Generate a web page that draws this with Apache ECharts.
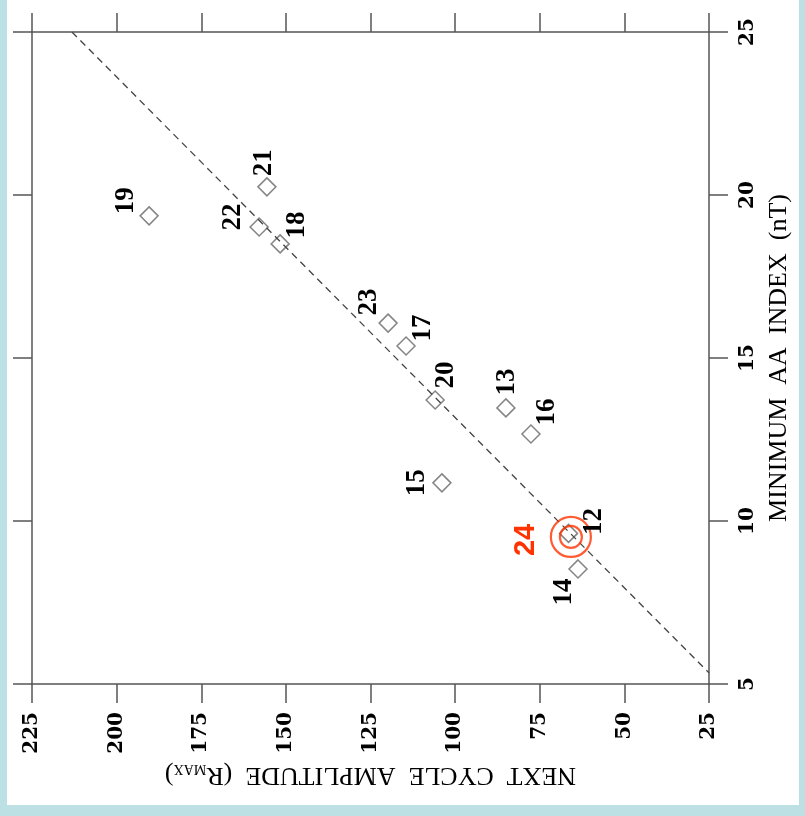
<!DOCTYPE html>
<html>
<head>
<meta charset="utf-8">
<script src="https://cdn.jsdelivr.net/npm/echarts@6/dist/echarts.min.js"></script>
<style>
  html, body { margin:0; padding:0; background:#bce0e4; }
  #paper { position:absolute; left:7px; top:0; width:792px; height:805px; background:#fff; }
  #chart { position:absolute; left:0; top:0; width:805px; height:816px; }
</style>
</head>
<body>
<div id="paper"></div>
<div id="chart"></div>
<script>
// ---- data ----
const cycles    = ['12','13','14','15','16','17','18','19','20','21','22','23'];
const amplitude = [66.5, 85.0, 63.7, 103.9, 77.6, 114.5, 151.7, 190.4, 105.9, 155.6, 157.9, 119.8];
const minAA     = [9.62, 13.47, 8.53, 11.17, 12.67, 15.37, 18.50, 19.36, 13.71, 20.25, 19.02, 16.07];
const predCycle = '24';
const predAmp   = 65.8;
const predAA    = 9.51;
const fitAmp    = [213.2, 25];
const fitAA     = [25, 5.34];
const ampTicks  = [25, 50, 75, 100, 125, 150, 175, 200, 225];
const aaTicks   = [5, 10, 15, 20, 25];

// ---- styling / layout ----
const labelOffsets = {
  '12':[26,-12], '13':[1,-26], '14':[-14,23], '15':[-25,0], '16':[16,-22], '17':[17,-18],
  '18':[17,-19], '19':[-23,-15], '20':[11,-25], '21':[-3,-24], '22':[-26,-10], '23':[-19,-21]
};
const predOffset = [-45, 3];
const lineCol = '#555';
const red = '#ff3300';
const serif = '"Liberation Serif", "Times New Roman", serif';
const wideSerif = '"DejaVu Serif", serif';

const chart = echarts.init(document.getElementById('chart'), null, {renderer:'canvas'});
const axisCommon = {
  type:'value',
  splitLine:{show:false},
  axisLine:{show:true, onZero:false, lineStyle:{color:lineCol, width:1.5}},
  axisTick:{show:true, inside:false, length:19, lineStyle:{color:lineCol, width:1.5}}
};
const tickFont = {color:'#000', fontFamily:wideSerif, fontWeight:'bold', fontSize:20};

chart.setOption({
  animation:false,
  backgroundColor:'transparent',
  grid:{left:32, top:32, width:677, height:652, containLabel:false},
  xAxis:[
    Object.assign({}, axisCommon, {
      position:'bottom', inverse:true, min:ampTicks[0], max:ampTicks[ampTicks.length-1], interval:25,
      axisLabel:Object.assign({rotate:90, margin:28}, tickFont),
      name:'NEXT  CYCLE  AMPLITUDE  (R{sub|MAX})',
      nameLocation:'middle', nameGap:76, nameRotate:180,
      nameTextStyle:{color:'#000', fontFamily:serif, fontSize:26, lineHeight:26,
        rich:{sub:{fontFamily:serif, fontSize:14, lineHeight:12, verticalAlign:'bottom', color:'#000'}}}
    }),
    Object.assign({}, axisCommon, {
      position:'top', inverse:true, min:ampTicks[0], max:ampTicks[ampTicks.length-1], interval:25,
      axisLabel:{show:false}
    })
  ],
  yAxis:[
    Object.assign({}, axisCommon, {
      position:'right', min:aaTicks[0], max:aaTicks[aaTicks.length-1], interval:5,
      axisLabel:Object.assign({rotate:90, margin:29}, tickFont),
      name:'MINIMUM  AA  INDEX  (nT)', nameLocation:'middle', nameGap:54, nameRotate:90,
      nameTextStyle:{color:'#000', fontFamily:serif, fontSize:26}
    }),
    Object.assign({}, axisCommon, {
      position:'left', min:aaTicks[0], max:aaTicks[aaTicks.length-1], interval:5,
      axisLabel:{show:false}
    })
  ],
  series:[
    {
      type:'line', xAxisIndex:0, yAxisIndex:0,
      data:fitAmp.map((a,i)=>[a, fitAA[i]]),
      symbol:'none', silent:true,
      lineStyle:{color:'#444', width:1.3, type:[7,5]}
    },
    {
      type:'scatter', xAxisIndex:0, yAxisIndex:0,
      data:amplitude.map((a,i)=>[a, minAA[i]]),
      symbol:'diamond', symbolSize:18,
      itemStyle:{color:'rgba(0,0,0,0)', borderColor:'#666', borderWidth:1.5}
    },
    {
      type:'scatter', xAxisIndex:0, yAxisIndex:0,
      data:[[predAmp, predAA]], symbol:'circle', symbolSize:40, z:4,
      itemStyle:{color:'rgba(0,0,0,0)', borderColor:red, borderWidth:2.2}
    },
    {
      type:'scatter', xAxisIndex:0, yAxisIndex:0,
      data:[[predAmp, predAA]], symbol:'circle', symbolSize:22, z:4,
      itemStyle:{color:'rgba(0,0,0,0)', borderColor:red, borderWidth:2.2}
    },
    {
      type:'custom', xAxisIndex:0, yAxisIndex:0, silent:true, z:5,
      dimensions:['amp','aa','idx'], encode:{x:0, y:1},
      data:amplitude.map((a,i)=>[a, minAA[i], i]),
      renderItem:function(params, api){
        const i = api.value(2);
        const p = api.coord([api.value(0), api.value(1)]);
        const off = labelOffsets[cycles[i]];
        return {type:'text', x:p[0]+off[0], y:p[1]+off[1], rotation:Math.PI/2,
          style:{text:cycles[i], fill:'#000', font:'bold 27px ' + serif, align:'center', verticalAlign:'middle'}};
      }
    },
    {
      type:'custom', xAxisIndex:0, yAxisIndex:0, silent:true, z:5,
      dimensions:['amp','aa'], encode:{x:0, y:1},
      data:[[predAmp, predAA]],
      renderItem:function(params, api){
        const p = api.coord([api.value(0), api.value(1)]);
        return {type:'text', x:p[0]+predOffset[0], y:p[1]+predOffset[1], rotation:Math.PI/2,
          style:{text:predCycle, fill:red, font:'bold 29px "Liberation Sans", Arial, sans-serif', align:'center', verticalAlign:'middle'}};
      }
    }
  ]
});
</script>
</body>
</html>
